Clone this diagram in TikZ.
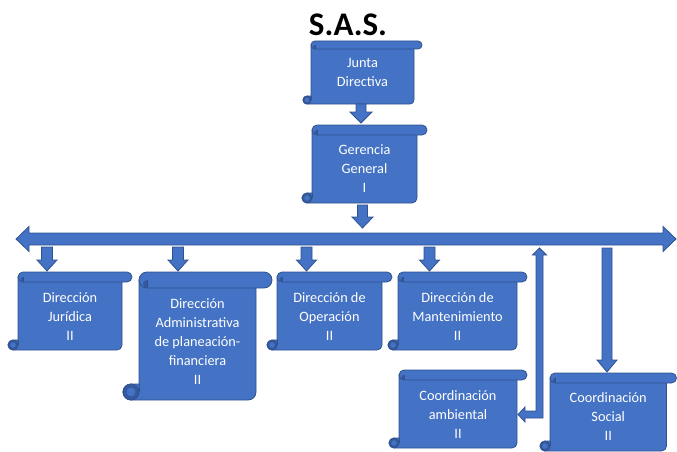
\documentclass[tikz,border=0pt]{standalone}
\usepackage{fontspec}
\setmainfont{Carlito}
\usetikzlibrary{calc}
\definecolor{sfill}{HTML}{4472C4}
\definecolor{sedge}{HTML}{2F528F}
\definecolor{scurl}{HTML}{35599C}
\tikzset{
  blk/.style={fill=sfill, draw=sedge, line width=0.8pt, line join=miter},
  scrollpart/.style={fill=sfill, draw=sedge, line width=0.8pt},
  scrolltext/.style={text=white, align=center, font=\fontsize{14.3}{19}\selectfont, inner sep=0pt},
  boxframe/.style={inner sep=0pt, outer sep=0pt, draw=none},
}
% #1 name, #2 x0, #3 y0, #4 x1, #5 y1 (pixels), #6 roll size, #7 text centre y, #8 text
\newcommand\scrollbox[8]{%
  \pgfmathsetmacro\sbXa{#2}\pgfmathsetmacro\sbXb{#4}%
  \pgfmathsetmacro\sbYa{-(#3)}\pgfmathsetmacro\sbYb{-(#5)}%
  \pgfmathsetmacro\sbC{#6}\pgfmathsetmacro\sbH{#6/2}\pgfmathsetmacro\sbQ{#6/4}%
  \pgfmathsetmacro\sbW{#4-#2-2*#6}\pgfmathsetmacro\sbHt{#5-#3}%
  % body
  \path[scrollpart] (\sbXa+\sbH,\sbYb) -- (\sbXb-\sbC-\sbH,\sbYb)
    arc[start angle=270,end angle=360,radius=\sbH] -- (\sbXb-\sbC,\sbYa-\sbH)
    -- (\sbXa+\sbC,\sbYa-\sbH) -- (\sbXa+\sbC,\sbYb+\sbC) -- (\sbXa+\sbH,\sbYb+\sbC)
    arc[start angle=90,end angle=270,radius=\sbH] -- cycle;
  % bottom-left roll
  \filldraw[fill=scurl, draw=sedge, line width=0.8pt] (\sbXa+\sbH,\sbYb+\sbH) circle[radius=\sbH];
  \fill[sfill] (\sbXa+\sbH,\sbYb+\sbH) circle[radius=\sbH*0.55];
  \draw[sedge, line width=0.8pt] (\sbXa+\sbC,\sbYb+\sbC) -- (\sbXa+\sbC,\sbYb+\sbH);
  % top roll
  \path[scrollpart] (\sbXa+\sbC+\sbH,\sbYa) -- (\sbXb-\sbH,\sbYa)
    arc[start angle=90,end angle=-90,radius=\sbH] -- (\sbXa+\sbC+\sbH,\sbYa-\sbC)
    arc[start angle=270,end angle=90,radius=\sbH] -- cycle;
  \fill[scurl] (\sbXa+\sbC+\sbH,\sbYa-\sbC) arc[start angle=270,end angle=90,radius=\sbQ] -- cycle;
  \draw[sedge, line width=0.8pt] (\sbXa+\sbC+\sbH,\sbYa-\sbH) -- (\sbXa+\sbC+\sbH,\sbYa-\sbC);
  % named frame and text
  \node[boxframe, minimum width=\sbW pt, minimum height=\sbHt pt] (#1-box)
    at ({(\sbXa+\sbXb)/2},{(\sbYa+\sbYb)/2}) {};
  \node[scrolltext] (#1) at ({(\sbXa+\sbXb)/2},{-(#7)}) {#8};
}
% block arrow pointing down: #1 x, #2 from, #3 to, #4 start gap, #5 end gap, #6 half shaft, #7 half head, #8 head length
\newcommand\arrdown[8]{%
  \path[blk] let \p1=(#2), \p2=(#3) in
    (#1pt-#6pt,\y1-#4pt) -- (#1pt+#6pt,\y1-#4pt) -- (#1pt+#6pt,\y2+#5pt+#8pt)
    -- (#1pt+#7pt,\y2+#5pt+#8pt) -- (#1pt,\y2+#5pt) -- (#1pt-#7pt,\y2+#5pt+#8pt)
    -- (#1pt-#6pt,\y2+#5pt+#8pt) -- cycle;
}
\begin{document}
\begin{tikzpicture}[x=1pt,y=1pt]
\useasboundingbox (0,0) rectangle (677,-452);

\node[font=\bfseries\fontsize{33}{38}\selectfont, anchor=base, inner sep=0pt] (title) at (348,-36) {S.A.S.};

% horizontal double arrow
\node[boxframe, minimum width=660pt, minimum height=12pt] (bar) at (346,-239) {};
\path[blk] let \p1=(bar.south west), \p2=(bar.north east) in
  (\x1,\y1+6pt) -- (\x1+13pt,\y2+6.5pt) -- (\x1+13pt,\y2) -- (\x2-13pt,\y2)
  -- (\x2-13pt,\y2+6.5pt) -- (\x2,\y1+6pt) -- (\x2-13pt,\y1-6.5pt) -- (\x2-13pt,\y1)
  -- (\x1+13pt,\y1) -- (\x1+13pt,\y1-6.5pt) -- cycle;

\scrollbox{junta}{303}{41}{422}{104}{8}{72.5}{Junta\\Directiva}
\scrollbox{ger}{302}{125}{427}{203}{10}{169}{Gerencia\\General\\I}
\scrollbox{jur}{8}{272}{132}{350}{10}{316.5}{Dirección\\Jurídica\\II}
\scrollbox{adm}{123}{272}{272}{400}{16}{342}{Dirección\\Administrativa\\de planeación-\\financiera\\II}
\scrollbox{ope}{267}{272}{392}{350}{10}{316.5}{Dirección de\\Operación\\II}
\scrollbox{man}{388}{272}{527}{350}{10}{316.5}{Dirección de\\Mantenimiento\\II}
\scrollbox{amb}{389}{370}{527}{448}{10}{414.5}{Coordinación\\ambiental\\II}
\scrollbox{soc}{540}{373}{676.5}{451}{10}{417}{Coordinación\\Social\\II}

% arrows
\arrdown{361}{junta-box.south}{ger-box.north}{0}{2}{5}{11}{11}
\arrdown{362.5}{ger-box.south}{bar.north}{2}{5}{5}{10.5}{11}
\arrdown{47}{bar.south}{jur-box.north}{2}{1}{5.5}{10}{11}
\arrdown{178}{bar.south}{adm-box.north}{2}{1}{5.5}{10}{11}
\arrdown{306.5}{bar.south}{ope-box.north}{2}{1}{5.5}{10}{11}
\arrdown{429.5}{bar.south}{man-box.north}{2}{1}{5.5}{10}{11}
\arrdown{607}{bar.south}{soc-box.north}{3}{1}{5}{10}{12}

% bent double arrow between bar and Coordinación ambiental
\path[blk] let \p1=(bar.south), \p2=(amb-box.east) in
  (539.5pt,\y1-3pt) -- (546.5pt,\y1-10pt) -- (543pt,\y1-10pt) -- (543pt,-418pt)
  -- (\x2+8pt,-418pt) -- (\x2+8pt,-422pt) -- (\x2+1pt,-414.5pt) -- (\x2+8pt,-407pt)
  -- (\x2+8pt,-411pt) -- (536pt,-411pt) -- (536pt,\y1-10pt) -- (532.5pt,\y1-10pt) -- cycle;
\end{tikzpicture}
\end{document}
